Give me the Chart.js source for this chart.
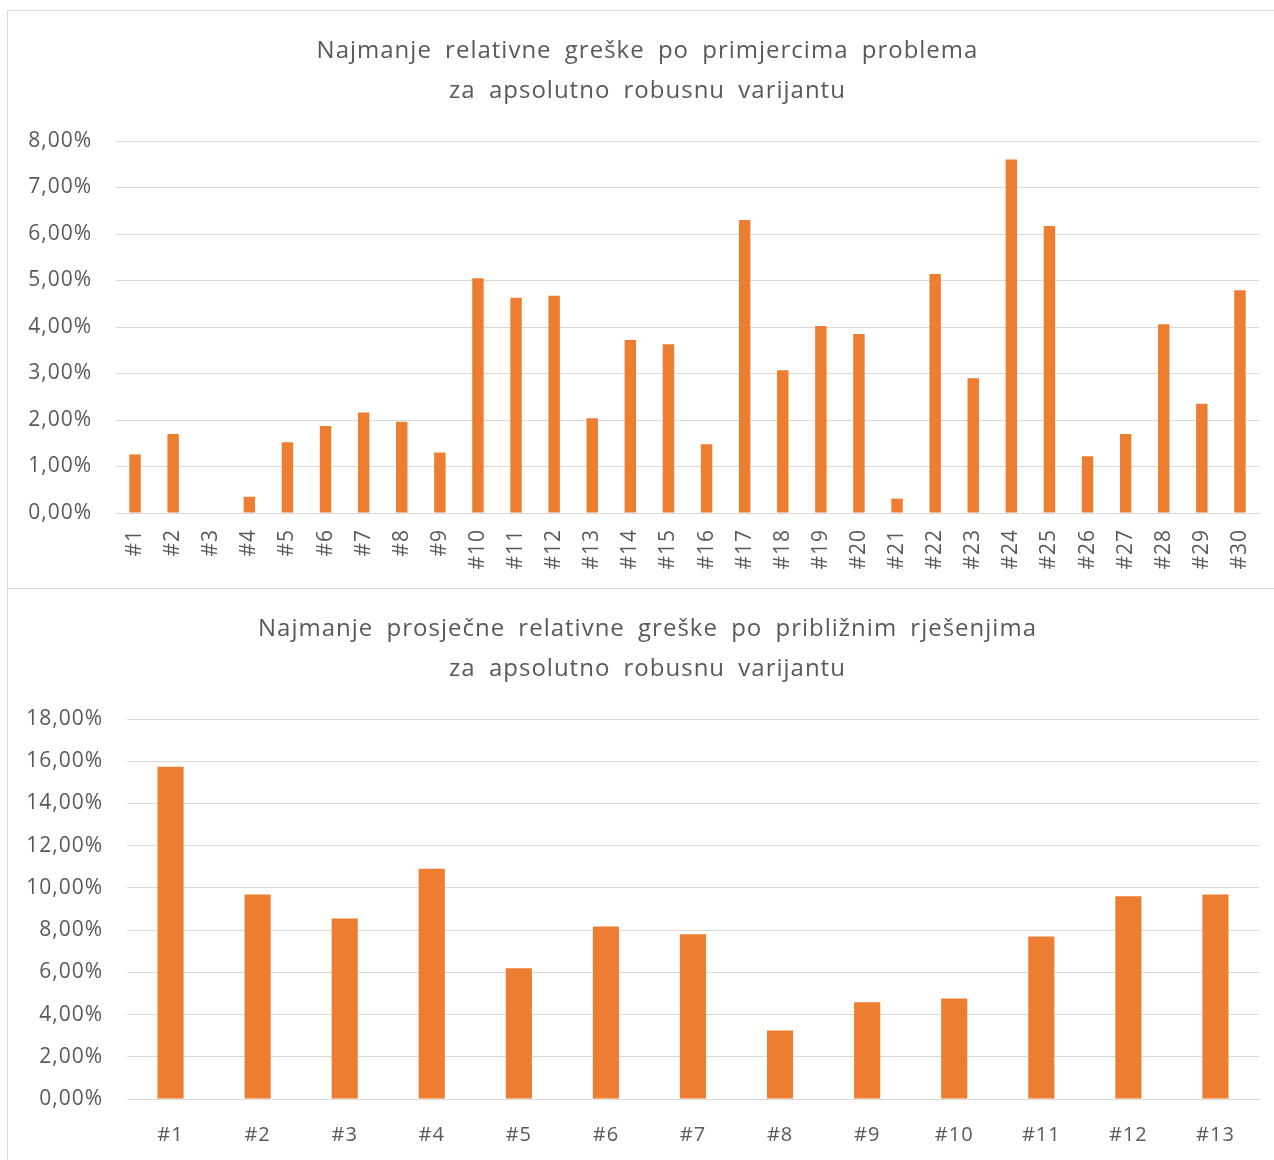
<!DOCTYPE html>
<html>
<head>
<meta charset="utf-8">
<script src="https://cdn.jsdelivr.net/npm/chart.js@4"></script>
<style>
    body { margin: 0; background: #fff; }
    .okvir { position: absolute; left: 7px; width: 1275px; border: 1px solid #d9d9d9; background: #fff; }
    #okvir-gore { top: 10px; height: 577px; }
    #okvir-dolje { top: 588px; height: 600px; }
    canvas { display: block; }
</style>
</head>
<body>
<div class="okvir" id="okvir-gore"><canvas id="chart-primjerci" width="1262" height="577"></canvas></div>
<div class="okvir" id="okvir-dolje"><canvas id="chart-rjesenja" width="1262" height="572"></canvas></div>
<script>
// podaci (u postocima)
const naslovPrimjerci = ['Najmanje relativne greške po primjercima problema', 'za apsolutno robusnu varijantu'];
const naslovRjesenja = ['Najmanje prosječne relativne greške po približnim rješenjima', 'za apsolutno robusnu varijantu'];

const primjerci = ['#1','#2','#3','#4','#5','#6','#7','#8','#9','#10','#11','#12','#13','#14','#15',
    '#16','#17','#18','#19','#20','#21','#22','#23','#24','#25','#26','#27','#28','#29','#30'];
const greskePrimjerci = [1.26, 1.70, 0, 0.35, 1.52, 1.87, 2.16, 1.96, 1.30, 5.05, 4.63, 4.67, 2.04, 3.72, 3.63,
    1.48, 6.30, 3.07, 4.02, 3.85, 0.31, 5.14, 2.90, 7.60, 6.17, 1.22, 1.70, 4.06, 2.35, 4.79];

const rjesenja = ['#1','#2','#3','#4','#5','#6','#7','#8','#9','#10','#11','#12','#13'];
const greskeRjesenja = [15.74, 9.69, 8.55, 10.91, 6.19, 8.17, 7.80, 3.24, 4.58, 4.76, 7.70, 9.60, 9.69];

const osiPrimjerci = { max: 8, korak: 1 };
const osiRjesenja = { max: 18, korak: 2 };

const narancasta = '#ED7D31';
const siva = '#595959';
const font = '"Open Sans", "DejaVu Sans", sans-serif';

function formatPostotak(v) {
    return v.toFixed(2).replace('.', ',') + '%';
}

// razmak slova kao u Excelu (Segoe UI je širi od Open Sans)
const razmakSlova = {
    id: 'razmakSlova',
    beforeUpdate(chart) { chart.ctx.letterSpacing = '1px'; chart.ctx.wordSpacing = '6px'; },
    beforeDraw(chart) { chart.ctx.letterSpacing = '1px'; chart.ctx.wordSpacing = '6px'; }
};

function napraviGraf(id, naslov, labels, data, osi, postavke) {
    const ctx = document.getElementById(id);
    return new Chart(ctx.getContext('2d'), {
        type: 'bar',
        plugins: [razmakSlova],
        data: {
            labels: labels,
            datasets: [{
                data: data,
                backgroundColor: narancasta,
                barPercentage: 0.3,
                categoryPercentage: 1
            }]
        },
        options: {
            responsive: false,
            devicePixelRatio: 1,
            animation: false,
            // naslov je u Excelu malo desno od sredine
            layout: { padding: { left: 17, right: 0, top: 0, bottom: 0 } },
            plugins: {
                legend: { display: false },
                tooltip: { enabled: false },
                title: {
                    display: true,
                    text: naslov,
                    color: siva,
                    font: { family: font, size: 24, weight: 'normal', lineHeight: 1.667 },
                    padding: { top: postavke.naslovGore, bottom: postavke.naslovDolje }
                }
            },
            scales: {
                x: {
                    grid: { display: false, drawTicks: false },
                    border: { display: true, color: '#d9d9d9', width: 1 },
                    ticks: {
                        color: siva,
                        font: { family: font, size: postavke.xFont },
                        padding: postavke.xPadding,
                        minRotation: postavke.rotacija,
                        maxRotation: postavke.rotacija,
                        autoSkip: false
                    },
                    afterFit: s => {
                        s.height = postavke.xVisina;
                        s.paddingLeft = 0;
                        s.paddingRight = 11;
                    }
                },
                y: {
                    min: 0,
                    max: osi.max,
                    grid: { color: '#d9d9d9', drawTicks: false },
                    border: { display: false },
                    ticks: {
                        stepSize: osi.korak,
                        color: siva,
                        font: { family: font, size: 21 },
                        padding: 24,
                        callback: v => formatPostotak(v)
                    },
                    afterFit: s => {
                        s.width = postavke.ySirina - 17;
                        s.paddingTop = 0;
                        s.paddingBottom = 0;
                    }
                }
            }
        }
    });
}

napraviGraf('chart-primjerci', naslovPrimjerci, primjerci, greskePrimjerci, osiPrimjerci,
    { naslovGore: 20, naslovDolje: 30, xPadding: 16, xFont: 21, rotacija: 90, xVisina: 75, ySirina: 108 });
napraviGraf('chart-rjesenja', naslovRjesenja, rjesenja, greskeRjesenja, osiRjesenja,
    { naslovGore: 20, naslovDolje: 30, xPadding: 24, xFont: 20, rotacija: 0, xVisina: 62, ySirina: 119 });
</script>
</body>
</html>
